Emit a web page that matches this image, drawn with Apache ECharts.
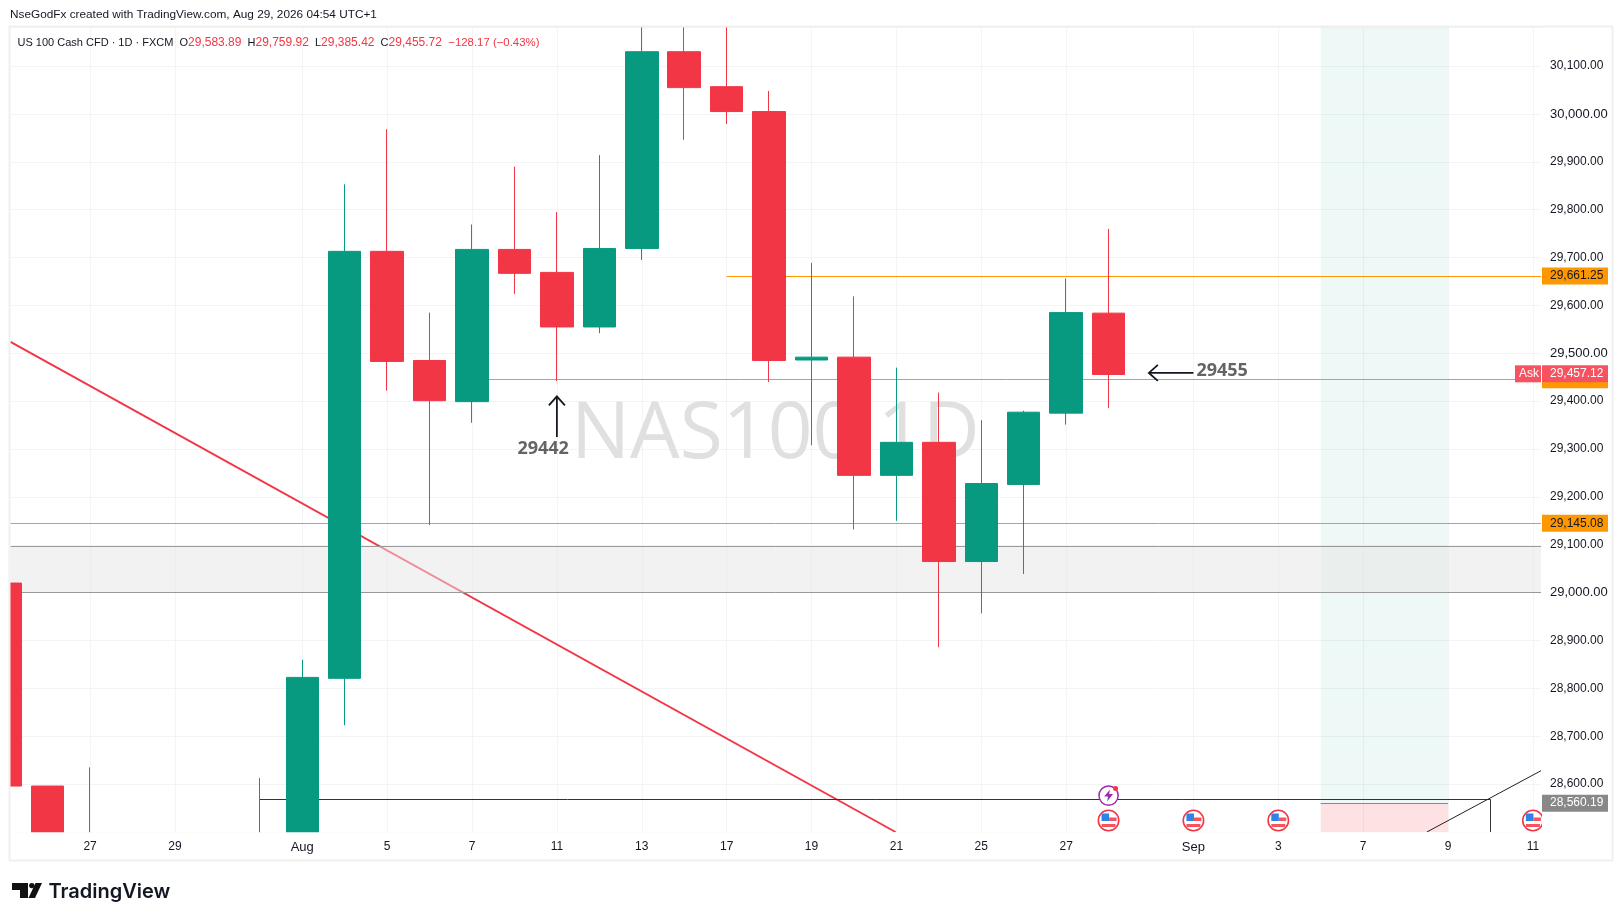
<!DOCTYPE html>
<html><head><meta charset="utf-8">
<style>html,body{margin:0;padding:0;background:#fff;overflow:hidden}#c{width:1623px;height:921px}</style>
<script src="https://cdn.jsdelivr.net/npm/echarts@6/dist/echarts.min.js"></script>
</head><body><div id="c"></div>
<script>
// trading-day index: 0 = Jul 23 ... 26 = Aug 28
const days   = [0,1,2,6,7,8,9,10,11,12,13,14,15,16,17,18,19,20,21,22,23,24,25,26];
const opens  = [29020,28596,28450,28350,28450,28821,29713,29485,29399,29717,29669,29555,29719,30130,30057,30005,29486,29492,29245,29314,29065,29226,29375,29583.89];
const closes = [28596,28400,28300,28480,28823,29713,29483,29401,29717,29667,29555,29719,30130,30055,30005,29485,29492,29245,29314,29065,29228,29377,29585,29455.72];
const lows   = [28596,28400,28200,28300,28400,28723,29422,29141,29355,29624,29442,29542,29695,29946,29979,29440,29308,29132,29150,28886,28957,29039,29351,29385.42];
const highs  = [29020,28596,28635,28613,28860,29853,29968,29585,29769,29890,29795,29914,30200,30190,30200,30048,29689,29619,29470,29418,29360,29380,29656,29759.92];

const xTickDays   = [2,4,7,9,11,13,15,17,19,21,23,25,28,30,32,34,36];
const xTickLabels = ['27','29','Aug','5','7','11','13','17','19','21','25','27','Sep','3','7','9','11'];
const xBoldLabels = ['Aug','Sep'];

const X_MIN = 0.125, X_MAX = 36.19, Y_MIN = 28500, Y_MAX = 30181;

const levelA = 29661.25, levelADay = 17;
const levelB = 29445,    levelBDay = 11;
const levelC = 29145.08, zoneTop = 29097, zoneBottom = 29000;
const trendRed = [[X_MIN,29524],[20.98,28500]];
const trendBlack = [[33.5,28500],[X_MAX,28628]];
const blackLevel = 28568, blackStart = 6, blackEnd = 35;
const boxStart = 31, boxEnd = 34, boxSplit = 28560.19;

const priceTags = [
  {v:29445, text:'', bg:'#ff9800', fg:'#131722'},
  {v:29661.25, text:'29,661.25', bg:'#ff9800', fg:'#131722'},
  {v:29145.08, text:'29,145.08', bg:'#ff9800', fg:'#131722'},
  {v:28560.19, text:'28,560.19', bg:'#888888', fg:'#ffffff'},
  {v:29457.12, text:'29,457.12', bg:'#f7525f', fg:'#ffffff', ask:true}
];
const flagDays = [26,28,30,36], flagValue = 28524;
const boltDay = 26, boltValue = 28576;
const arrows = [
  {from:[13,29325], to:[13,29410], dir:'up'},
  {from:[28,29459], to:[26.95,29459], dir:'left'}
];
const notes = [
  {pos:[12.07,29300], text:'29442'},
  {pos:[28.07,29463], text:'29455'}
];
const FONT = '"Liberation Sans",Arial,sans-serif';

const chart = echarts.init(document.getElementById('c'));
const fmt = v => v.toLocaleString('en-US',{minimumFractionDigits:2,maximumFractionDigits:2});
function hline(v,a,b,color,w){ return [{coord:[a,v],lineStyle:{color:color,width:w}},{coord:[b,v]}]; }
const RED='#f23645', GREEN='#089981';

function renderTag(params,api){
  const t = priceTags[params.dataIndex];
  const p = api.coord([X_MAX,t.v]);
  const x = p[0]+1, y = p[1]-8.5;
  const ch = [{type:'rect',shape:{x:x,y:y,width:66,height:17},style:{fill:t.bg}}];
  if(t.text) ch.push({type:'text',x:x+8,y:p[1],style:{text:t.text,fill:t.fg,font:'12px '+FONT,verticalAlign:'middle'}});
  if(t.ask){
    ch.push({type:'rect',shape:{x:p[0]-26,y:y,width:26,height:17},style:{fill:t.bg}});
    ch.push({type:'text',x:p[0]-22,y:p[1],style:{text:'Ask',fill:t.fg,font:'12px '+FONT,verticalAlign:'middle'}});
  }
  return {type:'group',children:ch};
}
function renderFlag(params,api){
  const p = api.coord([api.value(0),api.value(1)]), x=p[0], y=p[1];
  return {type:'group',children:[
    {type:'circle',shape:{cx:x,cy:y,r:10.2},style:{fill:'#fff',stroke:RED,lineWidth:1.6}},
    {type:'rect',shape:{x:x+0.5,y:y-3,width:7.5,height:3.5},style:{fill:'#f7525f'}},
    {type:'rect',shape:{x:x-7,y:y+3.5,width:14,height:3},style:{fill:'#f7525f'}},
    {type:'rect',shape:{x:x-7,y:y-7,width:7.5,height:7.5},style:{fill:'#2e84e6'}}
  ]};
}
function renderBolt(params,api){
  const p = api.coord([api.value(0),api.value(1)]), x=p[0], y=p[1];
  return {type:'group',children:[
    {type:'circle',shape:{cx:x,cy:y,r:9.6},style:{fill:'#fff',stroke:'#9c27b0',lineWidth:1.5}},
    {type:'polygon',shape:{points:[[x+1.5,y-6],[x-4.5,y+1],[x-0.5,y+1],[x-1.5,y+6],[x+4.5,y-1.5],[x+0.5,y-1.5]]},style:{fill:'#9c27b0'}},
    {type:'circle',shape:{cx:x+7,cy:y-7,r:2.5},style:{fill:RED}}
  ]};
}
function renderArrow(params,api){
  const a = arrows[params.dataIndex];
  const f = api.coord(a.from), t = api.coord(a.to);
  const h = a.dir==='up' ? [[t[0]-8,t[1]+9],[t[0],t[1]],[t[0]+8,t[1]+9]] : [[t[0]+9,t[1]-8],[t[0],t[1]],[t[0]+9,t[1]+8]];
  const st = {stroke:'#131722',lineWidth:1.8,fill:null};
  return {type:'group',children:[
    {type:'line',shape:{x1:f[0],y1:f[1],x2:t[0],y2:t[1]},style:st},
    {type:'polyline',shape:{points:h},style:st}
  ]};
}
const labelFmt = function(v){ const s=xTickLabels[xTickDays.indexOf(v)]||''; return xBoldLabels.includes(s)?'{b|'+s+'}':s; };

chart.setOption({
  animation:false,
  backgroundColor:'#ffffff',
  grid:{left:10.5,top:27.3,right:82,bottom:89,containLabel:false,show:false},
  xAxis:[
    {type:'value',min:X_MIN,max:X_MAX,
      axisLine:{show:false},
      axisTick:{show:false,customValues:xTickDays},
      splitLine:{show:true,lineStyle:{color:'#f3f4f6',width:1}},
      axisLabel:{show:false,customValues:xTickDays}},
    {type:'value',position:'bottom',z:13,min:X_MIN,max:X_MAX,
      axisLine:{show:false},
      axisTick:{show:false,customValues:xTickDays},
      splitLine:{show:false},
      axisLabel:{customValues:xTickDays,margin:9,color:'#131722',fontFamily:FONT,fontSize:12,formatter:labelFmt,
        rich:{b:{fontFamily:FONT,fontSize:13,color:'#131722'}}}}
  ],
  yAxis:{type:'value',position:'right',min:Y_MIN,max:Y_MAX,interval:100,
    axisLine:{show:false},axisTick:{show:false},
    splitLine:{show:true,lineStyle:{color:'#f3f4f6',width:1}},
    axisLabel:{margin:9,color:'#131722',fontFamily:FONT,fontSize:12,align:'left',
      formatter:function(v){ if(v%100!==0||v===Y_MIN) return ''; return v%500===0?'{b|'+fmt(v)+'}':fmt(v); },
      rich:{b:{fontFamily:FONT,fontSize:13,color:'#131722'}}}},
  graphic:[
    // white frame hides the parts of candles that run past the pane
    {type:'rect',z:11,shape:{x:0,y:0,width:10,height:921},style:{fill:'#fff'}},
    {type:'rect',z:11,shape:{x:0,y:0,width:1540,height:26.8},style:{fill:'#fff'}},
    {type:'rect',z:11,shape:{x:0,y:832.2,width:1540,height:89},style:{fill:'#fff'}},
    {type:'rect',z:12,shape:{x:9.5,y:26.5,width:1603,height:834},style:{fill:'none',stroke:'#f0f0f0',lineWidth:2}},
    {type:'text',z:1,left:571,top:396,style:{text:'NAS100 1D',fill:'#e0e0e0',font:'78.5px "Open Sans",sans-serif'}},
    {type:'text',z:20,left:10,top:9,style:{text:'NseGodFx created with TradingView.com, Aug 29, 2026 04:54 UTC+1',fill:'#131722',font:'11.8px '+FONT}},
    {type:'text',z:20,left:17.5,top:37,style:{
      text:'{k|US 100 Cash CFD · 1D · FXCM  O}{v|29,583.89}{k|  H}{v|29,759.92}{k|  L}{v|29,385.42}{k|  C}{v|29,455.72}{c|  −128.17 (−0.43%)}',
      rich:{k:{fill:'#131722',font:'11px '+FONT},v:{fill:RED,font:'12px '+FONT},c:{fill:RED,font:'11.4px '+FONT}}}},
    {type:'polygon',z:20,shape:{points:[[12,883],[28,883],[28,898],[20,898],[20,890],[12,890]]},style:{fill:'#111'}},
    {type:'circle',z:20,shape:{cx:31.8,cy:885.6,r:2.7},style:{fill:'#111'}},
    {type:'polygon',z:20,shape:{points:[[35.5,883],[42,883],[35,898],[28.5,898]]},style:{fill:'#111'}},
    {type:'text',z:20,left:48.5,top:881.5,style:{text:'TradingView',fill:'#131722',font:'600 20px Inter,sans-serif'}}
  ],
  series:[
    {type:'line',name:'trend',z:1,data:trendRed,symbol:'none',clip:true,lineStyle:{color:RED,width:2}},
    {type:'line',name:'zones',z:2,data:[],
      markArea:{silent:true,z:3,data:[
        [{xAxis:boxStart,yAxis:Y_MAX,itemStyle:{color:'rgba(8,153,129,0.07)'}},{xAxis:boxEnd,yAxis:boxSplit}],
        [{xAxis:boxStart,yAxis:boxSplit,itemStyle:{color:'rgba(242,54,69,0.15)'}},{xAxis:boxEnd,yAxis:Y_MIN}],
        [{xAxis:X_MIN,yAxis:zoneTop,itemStyle:{color:'rgba(230,230,230,0.5)'}},{xAxis:X_MAX,yAxis:zoneBottom}]
      ]},
      markLine:{silent:true,z:4,symbol:'none',label:{show:false},lineStyle:{type:'solid'},data:[
        hline(levelA,levelADay,X_MAX,'#ff9800',1),
        hline(levelB,levelBDay,X_MAX,'#ff9800',1),
        hline(levelC,X_MIN,X_MAX,'#ff9800',1),
        hline(zoneTop,X_MIN,X_MAX,'#999999',1),
        hline(zoneBottom,X_MIN,X_MAX,'#999999',1),
        hline(blackLevel,blackStart,blackEnd,'#333333',1),
        hline(boxSplit,boxStart,boxEnd,'#888888',1),
        [{coord:[blackEnd,blackLevel],lineStyle:{color:'#333333',width:1}},{coord:[blackEnd,Y_MIN]}]
      ]}},
    {type:'line',name:'rise',z:4,data:trendBlack,symbol:'none',clip:true,lineStyle:{color:'#222222',width:1}},
    {type:'candlestick',z:10,barWidth:33,clip:false,
      encode:{x:0,y:[1,2,3,4]},
      itemStyle:{color:GREEN,color0:RED,borderColor:GREEN,borderColor0:RED,borderWidth:1},
      data:days.map((d,i)=>[d,opens[i],closes[i],lows[i],highs[i]])},
    {type:'custom',z:12,clip:true,renderItem:renderFlag,data:flagDays.map(d=>[d,flagValue])},
    {type:'custom',z:12,clip:true,renderItem:renderBolt,data:[[boltDay,boltValue]]},
    {type:'custom',z:14,clip:false,renderItem:renderArrow,data:arrows.map(a=>a.to)},
    {type:'scatter',z:14,symbolSize:0,data:notes.map(n=>n.pos),
      label:{show:true,position:'right',distance:0,formatter:p=>notes[p.dataIndex].text,color:'#3d3d3d',
        fontFamily:'"Open Sans",sans-serif',fontSize:18,fontWeight:700}},
    {type:'custom',z:15,clip:false,renderItem:renderTag,data:priceTags.map(t=>[X_MAX,t.v])}
  ]
});
</script></body></html>
